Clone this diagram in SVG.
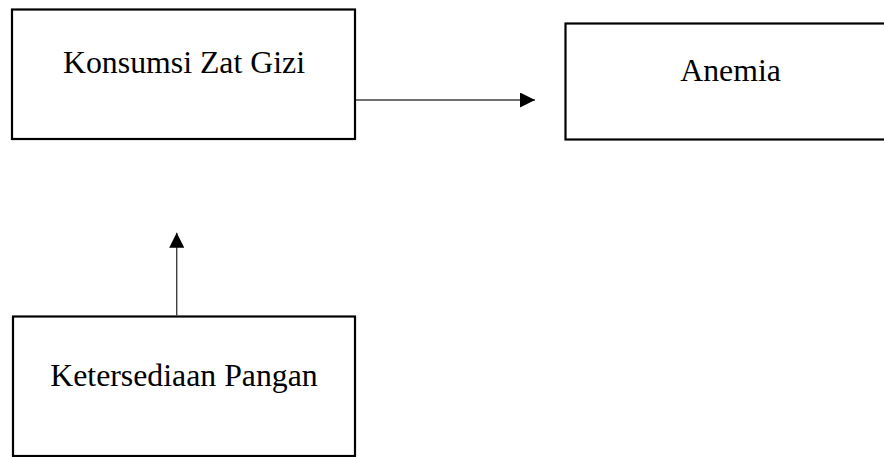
<svg xmlns="http://www.w3.org/2000/svg" width="884" height="457" viewBox="0 0 884 457">
<style>
.box{fill:#ffffff;stroke:#000000;stroke-width:2.2}
.lbl{font-family:"Liberation Serif","Times New Roman",serif;font-size:31.8px;fill:#000000;text-anchor:middle}
.conn{stroke:#404040;stroke-width:1.4;fill:none}
</style>
<defs>
<marker id="ah" markerWidth="15" markerHeight="15" viewBox="0 0 15 15" refX="15" refY="7.5" orient="auto" markerUnits="userSpaceOnUse">
<path d="M0,0 L15,7.5 L0,15 Z" fill="#000000"/>
</marker>
</defs>
<rect width="884" height="457" fill="#ffffff"/>
<g id="konsumsi">
<rect class="box" x="12" y="9.5" width="343" height="129.5"/>
<text class="lbl" x="184" y="73">Konsumsi Zat Gizi</text>
</g>
<g id="anemia">
<rect class="box" x="565.5" y="23.5" width="340" height="116"/>
<text class="lbl" x="730.5" y="80.5">Anemia</text>
</g>
<g id="ketersediaan">
<rect class="box" x="13" y="316.5" width="342" height="139.5"/>
<text class="lbl" x="184" y="385.5">Ketersediaan Pangan</text>
</g>
<g id="connectors">
<line class="conn" x1="356" y1="100" x2="535" y2="100" marker-end="url(#ah)"/>
<line class="conn" x1="176.7" y1="315.5" x2="176.7" y2="232.7" marker-end="url(#ah)"/>
</g>
</svg>
